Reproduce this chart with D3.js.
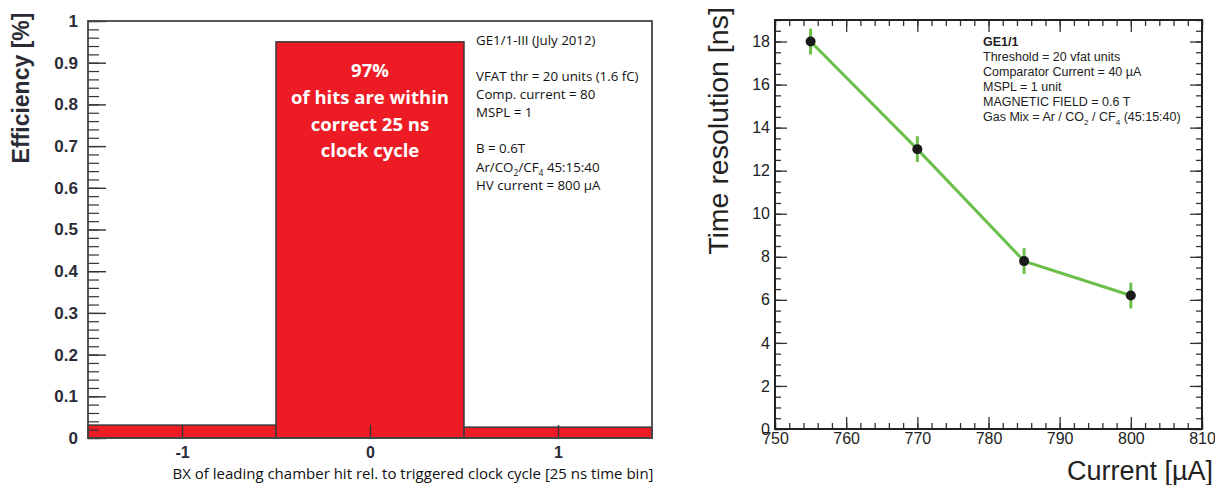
<!DOCTYPE html>
<html>
<head>
<meta charset="utf-8">
<script src="https://cdn.jsdelivr.net/npm/d3@7"></script>
<style>
  body { margin: 0; background: #fff; }
  svg { display: block; }
</style>
</head>
<body>
<div id="chart"></div>
<script>
// left panel: efficiency per BX bin
var bxBins = [-1, 0, 1];
var efficiency = [0.031, 0.95, 0.026];
var effTicks = [0, 0.1, 0.2, 0.3, 0.4, 0.5, 0.6, 0.7, 0.8, 0.9, 1];
var bxTicks = [-1, 0, 1];

// right panel: time resolution vs current
var current = [755, 770, 785, 800];
var timeRes = [18, 13, 7.8, 6.2];
var timeErr = [0.6, 0.6, 0.6, 0.6];
var currentTicks = [750, 760, 770, 780, 790, 800, 810];
var timeTicks = [0, 2, 4, 6, 8, 10, 12, 14, 16, 18];

var leftNote = ['GE1/1-III (July 2012)', '', 'VFAT thr = 20 units (1.6 fC)', 'Comp. current = 80', 'MSPL = 1', '', 'B = 0.6T', 'Ar/CO2/CF4 45:15:40', 'HV current = 800 µA'];
var barNote = ['97%', 'of hits are within', 'correct 25 ns', 'clock cycle'];
var rightNote = ['GE1/1', 'Threshold = 20 vfat units', 'Comparator Current = 40 µA', 'MSPL = 1 unit', 'MAGNETIC FIELD = 0.6 T', 'Gas Mix = Ar / CO2 / CF4 (45:15:40)'];

var W = 1215, H = 485;
var svg = d3.select('#chart').append('svg')
    .attr('width', W)
    .attr('height', H);

var calibri = "'Open Sans', sans-serif";
var helv = "'Liberation Sans', Arial, Helvetica, sans-serif";

// write text with the 2 / 4 of CO2 / CF4 as subscripts
function subText(sel, str, size) {
    var parts = str.split(/(CO2|CF4)/);
    var shift = 0;
    parts.forEach(function(p) {
        if (p === 'CO2' || p === 'CF4') {
            sel.append('tspan').attr('dy', -shift).text(p.slice(0, 2));
            sel.append('tspan').attr('dy', size * 0.3).attr('font-size', size * 0.65).text(p.slice(2));
            shift = size * 0.3;
        } else if (p) {
            sel.append('tspan').attr('dy', -shift).text(p);
            shift = 0;
        }
    });
}

// ---------- LEFT PANEL ----------
var L = {left: 88, right: 652, top: 21, bottom: 438};
var xL = d3.scaleLinear().domain([-1.5, 1.5]).range([L.left, L.right]);
var yL = d3.scaleLinear().domain([0, 1]).range([L.bottom, L.top]);

var gL = svg.append('g');

gL.selectAll('rect.bar')
    .data(bxBins)
    .enter()
    .append('rect')
    .attr('class', 'bar')
    .attr('x', d => xL(Math.max(d - 0.5, -1.5)))
    .attr('width', d => xL(Math.min(d + 0.5, 1.5)) - xL(Math.max(d - 0.5, -1.5)))
    .attr('y', (d, i) => yL(efficiency[i]))
    .attr('height', (d, i) => yL(0) - yL(efficiency[i]))
    .attr('fill', '#ed1c24')
    .attr('stroke', '#3a3a3a')
    .attr('stroke-width', 1.5);

// minor ticks
gL.append('g')
    .attr('transform', `translate(${L.left},0)`)
    .call(d3.axisLeft(yL).tickValues(d3.range(0, 101, 2).map(v => v / 100)).tickSize(-11).tickFormat(''))
    .call(g => g.select('.domain').remove())
    .selectAll('line').attr('stroke', '#333').attr('stroke-width', 1.2);

var yAxL = gL.append('g')
    .attr('transform', `translate(${L.left},0)`)
    .call(d3.axisLeft(yL).tickValues(effTicks).tickSize(-18).tickPadding(10)
        .tickFormat(d => (d === 0 || d === 1) ? String(d) : d3.format('.1f')(d)));
yAxL.select('.domain').remove();
yAxL.selectAll('line').attr('stroke', '#333').attr('stroke-width', 1.4);
yAxL.selectAll('text')
    .attr('font-family', helv).attr('font-weight', 'bold').attr('font-size', 17).attr('fill', '#2b2b35');

var xAxL = gL.append('g')
    .attr('transform', `translate(0,${L.bottom})`)
    .call(d3.axisBottom(xL).tickValues(bxTicks).tickSize(-13).tickPadding(9).tickFormat(d => String(d)));
xAxL.select('.domain').remove();
xAxL.selectAll('line').attr('stroke', '#333').attr('stroke-width', 1.4);
xAxL.selectAll('text')
    .attr('font-family', helv).attr('font-weight', 'bold').attr('font-size', 16).attr('fill', '#2b2b35');

// frame
gL.append('rect')
    .attr('x', L.left).attr('y', L.top)
    .attr('width', L.right - L.left).attr('height', L.bottom - L.top)
    .attr('fill', 'none').attr('stroke', '#444').attr('stroke-width', 1.8);

gL.append('text')
    .attr('transform', 'translate(29,88) rotate(-90)')
    .attr('text-anchor', 'middle')
    .attr('font-family', helv).attr('font-weight', 'bold').attr('font-size', 23)
    .attr('fill', '#2b2b35')
    .text('Efficiency [%]');

gL.append('text')
    .attr('x', 413).attr('y', 479)
    .attr('text-anchor', 'middle')
    .attr('font-family', calibri).attr('font-size', 15)
    .attr('fill', '#111')
    .text('BX of leading chamber hit rel. to triggered clock cycle [25 ns time bin]');

var bY = [77, 104, 131, 157];
barNote.forEach(function(s, i) {
    gL.append('text')
        .attr('x', xL(0)).attr('y', bY[i])
        .attr('text-anchor', 'middle')
        .attr('font-family', calibri).attr('font-weight', 'bold').attr('font-size', 18.5)
        .attr('fill', '#fff')
        .text(s);
});

var lY = [45, 63, 81, 99, 117, 135, 153, 172, 190];
leftNote.forEach(function(s, i) {
    if (!s) return;
    var t = gL.append('text')
        .attr('x', 476).attr('y', lY[i])
        .attr('font-family', calibri).attr('font-size', 13.3)
        .attr('fill', '#111');
    subText(t, s, 13.3);
});

// ---------- RIGHT PANEL ----------
var R = {left: 775, right: 1202, top: 20, bottom: 429};
var xR = d3.scaleLinear().domain([750, 810]).range([R.left, R.right]);
var yR = d3.scaleLinear().domain([0, 19]).range([R.bottom, R.top]);

var gR = svg.append('g');

function ticksOnly(g) {
    g.select('.domain').remove();
    g.selectAll('line').attr('stroke', '#333').attr('stroke-width', 1.3);
}

var minorY = d3.range(0, 19.01, 0.5);
var minorX = d3.range(750, 810.1, 2);

gR.append('g').attr('transform', `translate(${R.left},0)`)
    .call(d3.axisLeft(yR).tickValues(minorY).tickSize(-6).tickFormat('')).call(ticksOnly);
gR.append('g').attr('transform', `translate(${R.right},0)`)
    .call(d3.axisRight(yR).tickValues(minorY).tickSize(-6).tickFormat('')).call(ticksOnly);
gR.append('g').attr('transform', `translate(${R.right},0)`)
    .call(d3.axisRight(yR).tickValues(timeTicks).tickSize(-12).tickFormat('')).call(ticksOnly);
gR.append('g').attr('transform', `translate(0,${R.bottom})`)
    .call(d3.axisBottom(xR).tickValues(minorX).tickSize(-6).tickFormat('')).call(ticksOnly);
gR.append('g').attr('transform', `translate(0,${R.top})`)
    .call(d3.axisTop(xR).tickValues(minorX).tickSize(-6).tickFormat('')).call(ticksOnly);
gR.append('g').attr('transform', `translate(0,${R.top})`)
    .call(d3.axisTop(xR).tickValues(currentTicks).tickSize(-12).tickFormat('')).call(ticksOnly);

var yAxR = gR.append('g').attr('transform', `translate(${R.left},0)`)
    .call(d3.axisLeft(yR).tickValues(timeTicks).tickSize(-12).tickPadding(5));
ticksOnly(yAxR);
yAxR.selectAll('text').attr('font-family', helv).attr('font-size', 16).attr('fill', '#222');

var xAxR = gR.append('g').attr('transform', `translate(0,${R.bottom})`)
    .call(d3.axisBottom(xR).tickValues(currentTicks).tickSize(-12).tickPadding(4));
ticksOnly(xAxR);
xAxR.selectAll('text').attr('font-family', helv).attr('font-size', 16).attr('fill', '#222');

gR.append('rect')
    .attr('x', R.left).attr('y', R.top)
    .attr('width', R.right - R.left).attr('height', R.bottom - R.top)
    .attr('fill', 'none').attr('stroke', '#222').attr('stroke-width', 2);

var pts = current.map((c, i) => ({x: c, y: timeRes[i], e: timeErr[i]}));

gR.selectAll('line.err')
    .data(pts)
    .enter()
    .append('line')
    .attr('class', 'err')
    .attr('x1', d => xR(d.x)).attr('x2', d => xR(d.x))
    .attr('y1', d => yR(d.y - d.e)).attr('y2', d => yR(d.y + d.e))
    .attr('stroke', '#6cbf4a').attr('stroke-width', 3);

gR.append('path')
    .datum(pts)
    .attr('fill', 'none')
    .attr('stroke', '#6cbf4a')
    .attr('stroke-width', 3)
    .attr('d', d3.line().x(d => xR(d.x)).y(d => yR(d.y)));

gR.selectAll('circle.pt')
    .data(pts)
    .enter()
    .append('circle')
    .attr('class', 'pt')
    .attr('cx', d => xR(d.x)).attr('cy', d => yR(d.y))
    .attr('r', 5)
    .attr('fill', '#1a1a1a');

gR.append('text')
    .attr('transform', 'translate(728,131) rotate(-90)')
    .attr('text-anchor', 'middle')
    .attr('font-family', helv).attr('font-size', 28.5)
    .attr('fill', '#222')
    .text('Time resolution [ns]');

gR.append('text')
    .attr('x', 1213).attr('y', 480)
    .attr('text-anchor', 'end')
    .attr('font-family', helv).attr('font-size', 27)
    .attr('fill', '#222')
    .text('Current [µA]');

var rY = [46, 61, 76, 91, 106, 121];
rightNote.forEach(function(s, i) {
    var t = gR.append('text')
        .attr('x', 983).attr('y', rY[i])
        .attr('font-family', helv).attr('font-size', 12.5)
        .attr('font-weight', i === 0 ? 'bold' : 'normal')
        .attr('fill', '#222');
    subText(t, s, 12.5);
});
</script>
</body>
</html>
